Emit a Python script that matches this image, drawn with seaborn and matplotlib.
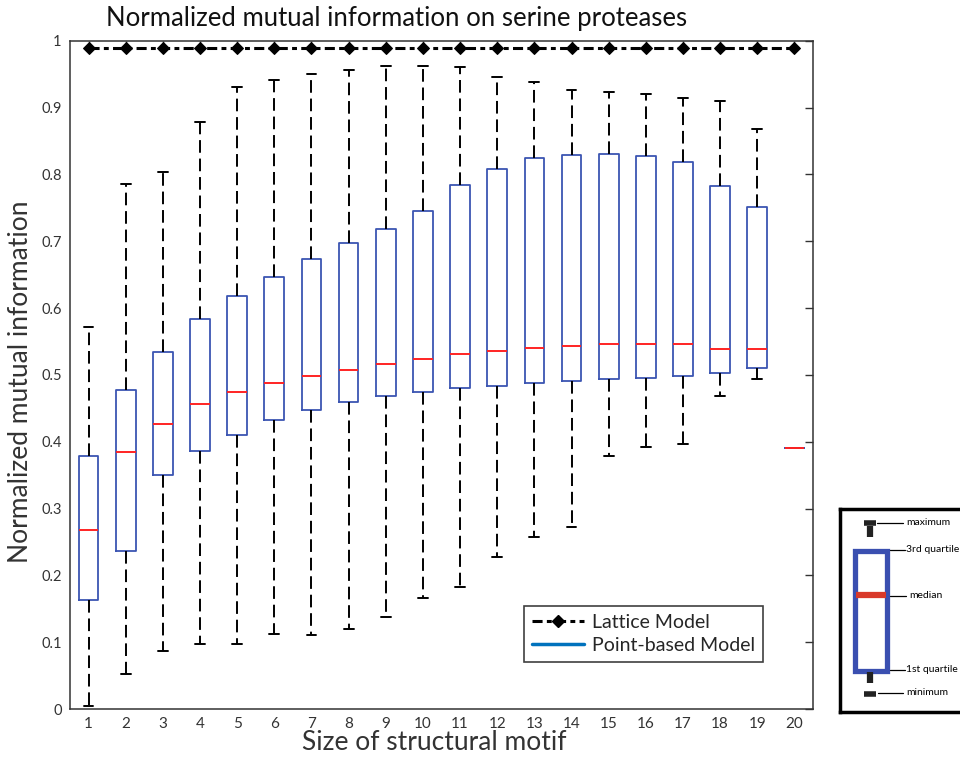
import numpy as np
import pandas as pd
import matplotlib
matplotlib.use('Agg')
import matplotlib.pyplot as plt
import seaborn as sns
from matplotlib.lines import Line2D
from matplotlib.patches import Rectangle

# motif sizes and five-number summaries
sizes = list(range(1, 21))
mins = [0.005, 0.052, 0.087, 0.098, 0.098, 0.112, 0.111, 0.120, 0.138, 0.166,
        0.183, 0.228, 0.258, 0.272, 0.378, 0.392, 0.396, 0.469, 0.494, 0.391]
q1s = [0.163, 0.236, 0.351, 0.386, 0.410, 0.432, 0.448, 0.460, 0.469, 0.475,
       0.481, 0.484, 0.488, 0.491, 0.494, 0.496, 0.499, 0.503, 0.511, 0.391]
medians = [0.268, 0.384, 0.427, 0.456, 0.475, 0.488, 0.498, 0.508, 0.516, 0.524,
           0.531, 0.536, 0.541, 0.544, 0.547, 0.547, 0.547, 0.539, 0.539, 0.391]
q3s = [0.379, 0.477, 0.535, 0.583, 0.618, 0.647, 0.674, 0.698, 0.719, 0.746,
       0.784, 0.808, 0.824, 0.829, 0.831, 0.828, 0.819, 0.783, 0.751, 0.391]
maxs = [0.572, 0.786, 0.804, 0.878, 0.931, 0.942, 0.950, 0.956, 0.963, 0.963,
        0.961, 0.946, 0.939, 0.926, 0.923, 0.920, 0.914, 0.910, 0.868, 0.391]
lattice = [0.989] * 20

ytick_vals = [0, 0.1, 0.2, 0.3, 0.4, 0.5, 0.6, 0.7, 0.8, 0.9, 1]
ytick_labels = ['0', '0.1', '0.2', '0.3', '0.4', '0.5', '0.6', '0.7', '0.8', '0.9', '1']

# long table: each box gets its five numbers, so the quartiles come out exact
rows = []
for s, a, b, c, d, e in zip(sizes, mins, q1s, medians, q3s, maxs):
    for v in (a, b, c, d, e):
        rows.append({'size': s, 'nmi': v})
df = pd.DataFrame(rows)

sns.set_style('white')
plt.rcParams['font.family'] = ['Lato', 'DejaVu Sans']

BLUE = '#3b55b2'
RED = '#ff2424'
AXC = '#333333'
DASHDOT = (0, (3.3, 1.4, 1.6, 1.4))

fig = plt.figure(figsize=(9.6, 7.61), dpi=100)
ax = fig.add_axes([0.0729, 0.0683, 0.774, 0.878])

sns.boxplot(data=df, x='size', y='nmi', native_scale=True, whis=(0, 100),
            width=0.53, fill=False, color=BLUE, linewidth=1.3, showfliers=False,
            boxprops={'color': BLUE, 'linewidth': 1.3},
            medianprops={'color': RED, 'linewidth': 1.4},
            whiskerprops={'color': 'k', 'linewidth': 1.4, 'linestyle': (0, (6.5, 3))},
            capprops={'color': 'k', 'linewidth': 1.4},
            ax=ax)

sns.lineplot(x=sizes, y=lattice, color='k', linewidth=2.2, linestyle=DASHDOT,
             marker='D', markersize=6.5, markeredgecolor='k', ax=ax)

ax.set_xlim(0.5, 20.5)
ax.set_ylim(0, 1)
ax.set_xticks(sizes)
ax.set_xticklabels([str(s) for s in sizes], fontsize=11, color=AXC)
ax.set_yticks(ytick_vals)
ax.set_yticklabels(ytick_labels, fontsize=10.5, color=AXC)
ax.tick_params(direction='in', length=6, width=1, colors=AXC, pad=6,
               top=True, right=True)
for sp in ax.spines.values():
    sp.set_color(AXC)
    sp.set_linewidth(1.1)

ax.set_xlabel('Size of structural motif', fontsize=19, color='#333333')
ax.xaxis.set_label_coords(0.49, -0.031)
ax.set_ylabel('Normalized mutual information', fontsize=19, color='#333333')
ax.yaxis.set_label_coords(-0.05, 0.49)
ax.text(0.44, 1.034, 'Normalized mutual information on serine proteases',
        transform=ax.transAxes, ha='center', va='center', fontsize=18.5, color='#111111')

handles = [
    Line2D([], [], color='k', linewidth=2.2, linestyle=DASHDOT, marker='D', markersize=6.5),
    Line2D([], [], color='#0072BD', linewidth=2.5),
]
leg = ax.legend(handles, ['Lattice Model', 'Point-based Model'], loc='lower left',
                bbox_to_anchor=(0.611, 0.0708), borderaxespad=0, fontsize=14,
                handlelength=2.7, handletextpad=0.4, fancybox=False, framealpha=1,
                edgecolor='#404040', borderpad=0.4, labelspacing=0.3)
leg.get_frame().set_linewidth(1.2)

# explanatory key on the right
ins = fig.add_axes([0.875, 0.0644, 0.13, 0.267])
ins.set_xlim(0, 124.8)
ins.set_ylim(203, 0)
ins.set_xticks([])
ins.set_yticks([])
for sp in ins.spines.values():
    sp.set_color('k')
    sp.set_linewidth(2.5)
ins.add_patch(Rectangle((14.5, 42.5), 32, 120, fill=False, edgecolor='#3a4fb0', linewidth=3.8))
ins.plot([16, 46], [86, 86], color='#d9392a', linewidth=4.5, solid_capstyle='butt')
ins.plot([30, 30], [17, 28], color='#222222', linewidth=4.5, solid_capstyle='butt')
ins.plot([24, 36], [14.5, 14.5], color='#222222', linewidth=4, solid_capstyle='butt')
ins.plot([30, 30], [163, 174], color='#222222', linewidth=4.5, solid_capstyle='butt')
ins.plot([24, 36], [185, 185], color='#222222', linewidth=4, solid_capstyle='butt')
ins.plot([37, 63], [14, 14], color='k', linewidth=0.9)
ins.plot([50, 65], [41, 41], color='k', linewidth=0.9)
ins.plot([50, 66], [87, 87], color='k', linewidth=0.9)
ins.plot([50, 65], [161, 161], color='k', linewidth=0.9)
ins.plot([38, 63], [184, 184], color='k', linewidth=0.9)
for y, t, x in [(14, 'maximum', 66), (41, '3rd quartile', 66), (87, 'median', 69),
                (161, '1st quartile', 66), (184, 'minimum', 66)]:
    ins.text(x, y, t, fontsize=7.5, va='center', ha='left', color='k')

fig.savefig('out.png', dpi=100)
